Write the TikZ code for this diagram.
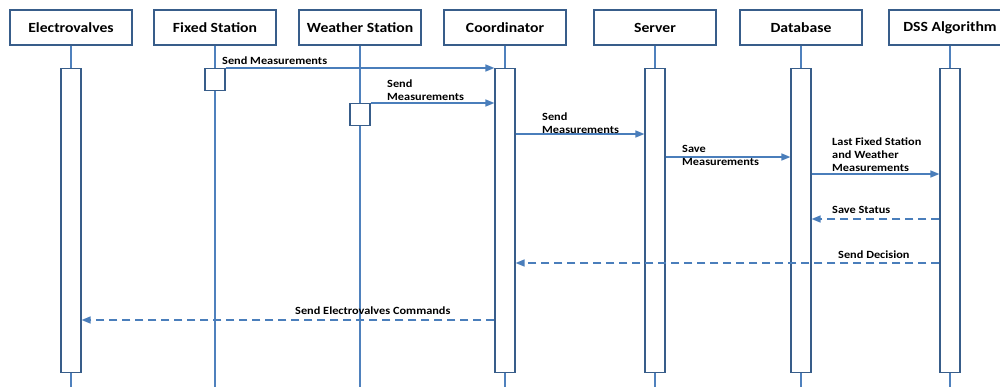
\documentclass[tikz,border=0pt]{standalone}
\usepackage{fontspec}
\setmainfont{Carlito}[FakeStretch=1.12]
\usetikzlibrary{arrows.meta}
\definecolor{lineblue}{RGB}{79,129,189}
\definecolor{boxblue}{RGB}{56,93,138}
\definecolor{arrowblue}{RGB}{74,126,187}

\begin{document}
\begin{tikzpicture}[x=1pt, y=-1pt,
	actor/.style={draw=boxblue, line width=1.3pt, fill=white, minimum width=122pt, minimum height=35pt, inner sep=0pt, font=\bfseries\fontsize{14}{16}\selectfont},
	life/.style={draw=lineblue, line width=2.5pt},
	act/.style={draw=boxblue, line width=1.2pt, fill=white, minimum width=20pt, inner sep=0pt, anchor=north},
	msg/.style={draw=arrowblue, line width=1.5pt, -{Triangle[length=9pt,width=7pt]}},
	reply/.style={msg, dash pattern=on 8pt off 5pt},
	lbl/.style={inner sep=0pt, anchor=base west, align=left, font=\bfseries\fontsize{11}{13}\selectfont}]
					\useasboundingbox (0,0) rectangle (1000,386);
					\coordinate (top) at (0,68);
					\coordinate (wtop) at (0,103);
					\coordinate (bottom) at (0,390);

					\node[actor] (ev) at (71,27.5) {Electrovalves};
					\node[actor] (fixed) at (215,27.5) {Fixed Station};
					\node[actor] (weather) at (360,27.5) {Weather Station};
					\node[actor] (coord) at (505,27.5) {Coordinator};
					\node[actor] (server) at (655,27.5) {Server};
					\node[actor] (db) at (801,27.5) {Database};
					\node[actor] (dss) at (950,27.5) {DSS Algorithm};

					% lifelines
					\foreach \n in {ev,fixed,weather,coord,server,db,dss}
						\draw[life] (\n.south) -- (\n.south |- bottom);

					% activation bars
					\node[act, minimum height=304pt] (evbar) at (ev.south |- top) {};
					\node[act, minimum height=22pt] (fixedbar) at (fixed.south |- top) {};
					\node[act, minimum height=22pt] (weatherbar) at (weather.south |- wtop) {};
					\node[act, minimum height=304pt] (coordbar) at (coord.south |- top) {};
					\node[act, minimum height=304pt] (serverbar) at (server.south |- top) {};
					\node[act, minimum height=304pt] (dbbar) at (db.south |- top) {};
					\node[act, minimum height=304pt] (dssbar) at (dss.south |- top) {};

					\coordinate (m3) at (0,134);
					\coordinate (m4) at (0,157);
					\coordinate (m5) at (0,174);
					\coordinate (m6) at (0,219);
					\coordinate (m7) at (0,263);
					\coordinate (m8) at (0,320);

					\path
					(fixedbar.north east) edge[msg] (fixedbar.north east -| coordbar.west)
					(weatherbar.north east) edge[msg] (weatherbar.north east -| coordbar.west)
					(coordbar.east |- m3) edge[msg] (serverbar.west |- m3)
					(serverbar.east |- m4) edge[msg] (dbbar.west |- m4)
					(dbbar.east |- m5) edge[msg] (dssbar.west |- m5)
					(dssbar.west |- m6) edge[reply] (dbbar.east |- m6)
					(dssbar.west |- m7) edge[reply] (coordbar.east |- m7)
					(coordbar.west |- m8) edge[reply] (evbar.east |- m8)
					;

					\node[lbl] (l1) at (222,64) {Send Measurements};
					\node[lbl] (l2) at (387,100) {Send\\Measurements};
					\node[lbl] (l3) at (542,133) {Send\\Measurements};
					\node[lbl] (l4) at (682,165) {Save\\Measurements};
					\node[lbl] (l5) at (832,171) {Last Fixed Station\\and Weather\\Measurements};
					\node[lbl] (l6) at (832,213) {Save Status};
					\node[lbl] (l7) at (838,258) {Send Decision};
					\node[lbl] (l8) at (295,314) {Send Electrovalves Commands};
				\end{tikzpicture}
\end{document}
